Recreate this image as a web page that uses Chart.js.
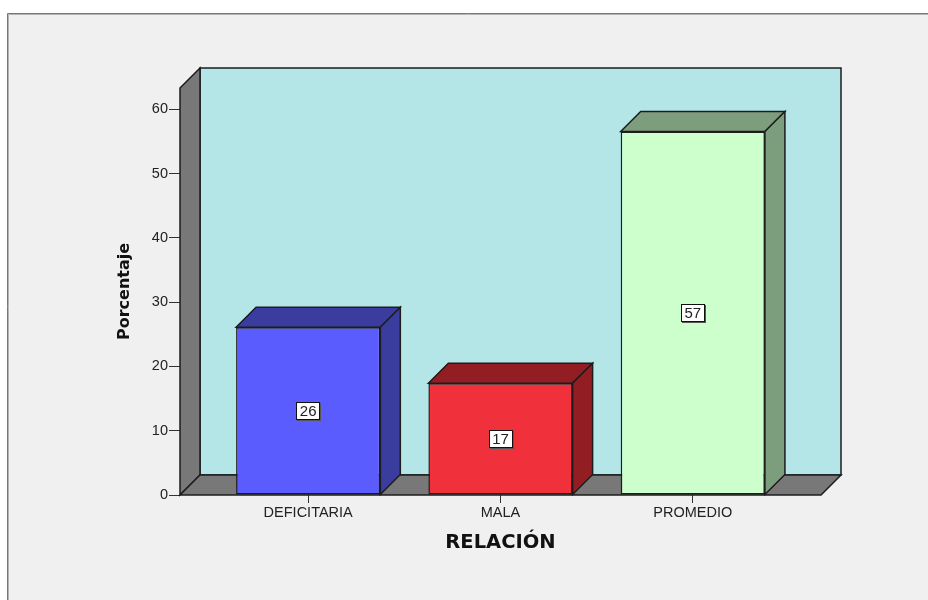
<!DOCTYPE html>
<html>
<head>
<meta charset="utf-8">
<script src="https://cdn.jsdelivr.net/npm/chart.js@4.4.0/dist/chart.umd.min.js"></script>
<style>
html,body{margin:0;padding:0;background:#fff;}
#wrap{width:928px;height:600px;position:relative;overflow:hidden;}
canvas{display:block;}
</style>
</head>
<body>
<div id="wrap"><canvas id="c" width="928" height="600"></canvas></div>
<script>
// ---- data ----
const categories = ['DEFICITARIA', 'MALA', 'PROMEDIO'];
const percentages = [26.09, 17.39, 56.52];
const valueLabels = ['26', '17', '57'];
const yTickValues = [0, 10, 20, 30, 40, 50, 60];
const xAxisTitle = 'RELACIÓN';
const yAxisTitle = 'Porcentaje';

// ---- styles ----
const faceColors = ['#5a5cfd', '#f0313b', '#ccffcc'];
const shadeColors = ['#3a3c9e', '#921e23', '#7d9e7d'];
const DEPTH = 20;
const EDGE = '#1c1c1c';
const TICK_FONT = {family: '"Liberation Sans", Arial, sans-serif', size: 14.5};
const TITLE_FAMILY = '"DejaVu Sans", Verdana, sans-serif';

function poly(ctx, pts, fill) {
  ctx.beginPath();
  ctx.moveTo(pts[0][0], pts[0][1]);
  for (let i = 1; i < pts.length; i++) ctx.lineTo(pts[i][0], pts[i][1]);
  ctx.closePath();
  ctx.fillStyle = fill;
  ctx.fill();
  ctx.stroke();
}

const threeD = {
  id: 'threeD',
  beforeDraw(chart) {
    const {ctx, width, height} = chart;
    ctx.save();
    ctx.fillStyle = '#ffffff';
    ctx.fillRect(0, 0, width, height);
    ctx.fillStyle = '#f0f0f0';
    ctx.fillRect(7, 13, width - 7, height - 13);
    ctx.lineWidth = 1;
    ctx.strokeStyle = '#787878';
    ctx.beginPath(); ctx.moveTo(7.5, height); ctx.lineTo(7.5, 13.5); ctx.lineTo(width, 13.5); ctx.stroke();
    ctx.strokeStyle = '#b4b4b4';
    ctx.beginPath(); ctx.moveTo(8.5, height); ctx.lineTo(8.5, 14.5); ctx.lineTo(width, 14.5); ctx.stroke();
    ctx.restore();
  },
  beforeDatasetsDraw(chart) {
    const {ctx, chartArea} = chart;
    const {left, right, top, bottom} = chartArea;
    const d = DEPTH;
    ctx.save();
    ctx.lineWidth = 1.5;
    ctx.lineJoin = 'miter';
    ctx.strokeStyle = EDGE;
    poly(ctx, [[left + d, top - d], [right + d, top - d], [right + d, bottom - d], [left + d, bottom - d]], '#b4e6e8');
    poly(ctx, [[left, top], [left + d, top - d], [left + d, bottom - d], [left, bottom]], '#787878');
    poly(ctx, [[left, bottom], [left + d, bottom - d], [right + d, bottom - d], [right, bottom]], '#787878');
    ctx.restore();
  },
  afterDatasetsDraw(chart) {
    const {ctx} = chart;
    const meta = chart.getDatasetMeta(0);
    const d = DEPTH;
    ctx.save();
    meta.data.forEach((bar, i) => {
      const {x, y, base, width} = bar.getProps(['x', 'y', 'base', 'width'], true);
      const l = x - width / 2, r = x + width / 2;
      ctx.lineWidth = 1.5;
      ctx.lineJoin = 'miter';
      ctx.strokeStyle = EDGE;
      poly(ctx, [[l, y], [l + d, y - d], [r + d, y - d], [r, y]], shadeColors[i]);
      poly(ctx, [[r, y], [r + d, y - d], [r + d, base - d], [r, base]], shadeColors[i]);

      // value label box
      const t = valueLabels[i];
      ctx.font = '15px "Liberation Sans", Arial, sans-serif';
      const tw = ctx.measureText(t).width;
      const cy = (y + base) / 2;
      const bw = Math.round(tw + 7), bh = 18;
      const bx = Math.round(x - bw / 2), by = Math.round(cy - bh / 2);
      ctx.fillStyle = '#555';
      ctx.fillRect(bx + 1, by + 1, bw, bh);
      ctx.fillStyle = '#ffffff';
      ctx.fillRect(bx, by, bw, bh);
      ctx.lineWidth = 1;
      ctx.strokeStyle = '#111';
      ctx.strokeRect(bx + 0.5, by + 0.5, bw - 1, bh - 1);
      ctx.fillStyle = '#222';
      ctx.textAlign = 'center';
      ctx.textBaseline = 'middle';
      ctx.fillText(t, x, cy + 1);
    });
    ctx.restore();
  }
};

const ctx = document.getElementById('c').getContext('2d');
new Chart(ctx, {
  type: 'bar',
  data: {
    datasets: [{
      data: categories.map((c, i) => ({x: i, y: percentages[i]})),
      backgroundColor: faceColors,
      borderColor: EDGE,
      borderWidth: 1.5,
      borderSkipped: false,
      categoryPercentage: 1,
      barPercentage: 0.75
    }]
  },
  options: {
    responsive: false,
    animation: false,
    devicePixelRatio: 1,
    layout: {padding: {left: 110, right: 107, top: 88, bottom: 44}},
    plugins: {legend: {display: false}, tooltip: {enabled: false}},
    scales: {
      x: {
        type: 'linear',
        offset: false,
        min: -2 / 3,
        max: 8 / 3,
        afterBuildTicks: s => { s.ticks = categories.map((c, i) => ({value: i})); },
        ticks: {
          callback: v => categories[v] !== undefined ? categories[v] : '',
          font: TICK_FONT, color: '#222', padding: 1, maxRotation: 0, autoSkip: false
        },
        grid: {offset: false, drawOnChartArea: false, drawTicks: true, tickLength: 8, color: '#333', lineWidth: 1},
        border: {display: false},
        title: {display: true, text: xAxisTitle, color: '#111',
          font: {family: TITLE_FAMILY, weight: 'bold', size: 19.5}, padding: {top: 0, bottom: 1}},
        afterFit: s => { s.height = 61; }
      },
      y: {
        min: 0,
        max: 63.3,
        afterBuildTicks: s => { s.ticks = yTickValues.map(v => ({value: v})); },
        ticks: {font: TICK_FONT, color: '#222', padding: 1},
        grid: {drawOnChartArea: false, drawTicks: true, tickLength: 11, color: '#333', lineWidth: 1},
        border: {display: false},
        title: {display: true, text: yAxisTitle, color: '#111',
          font: {family: TITLE_FAMILY, weight: 'bold', size: 16}, padding: {top: 5, bottom: 0}},
        afterFit: s => { s.width = 70; }
      }
    }
  },
  plugins: [threeD]
});
</script>
</body>
</html>
